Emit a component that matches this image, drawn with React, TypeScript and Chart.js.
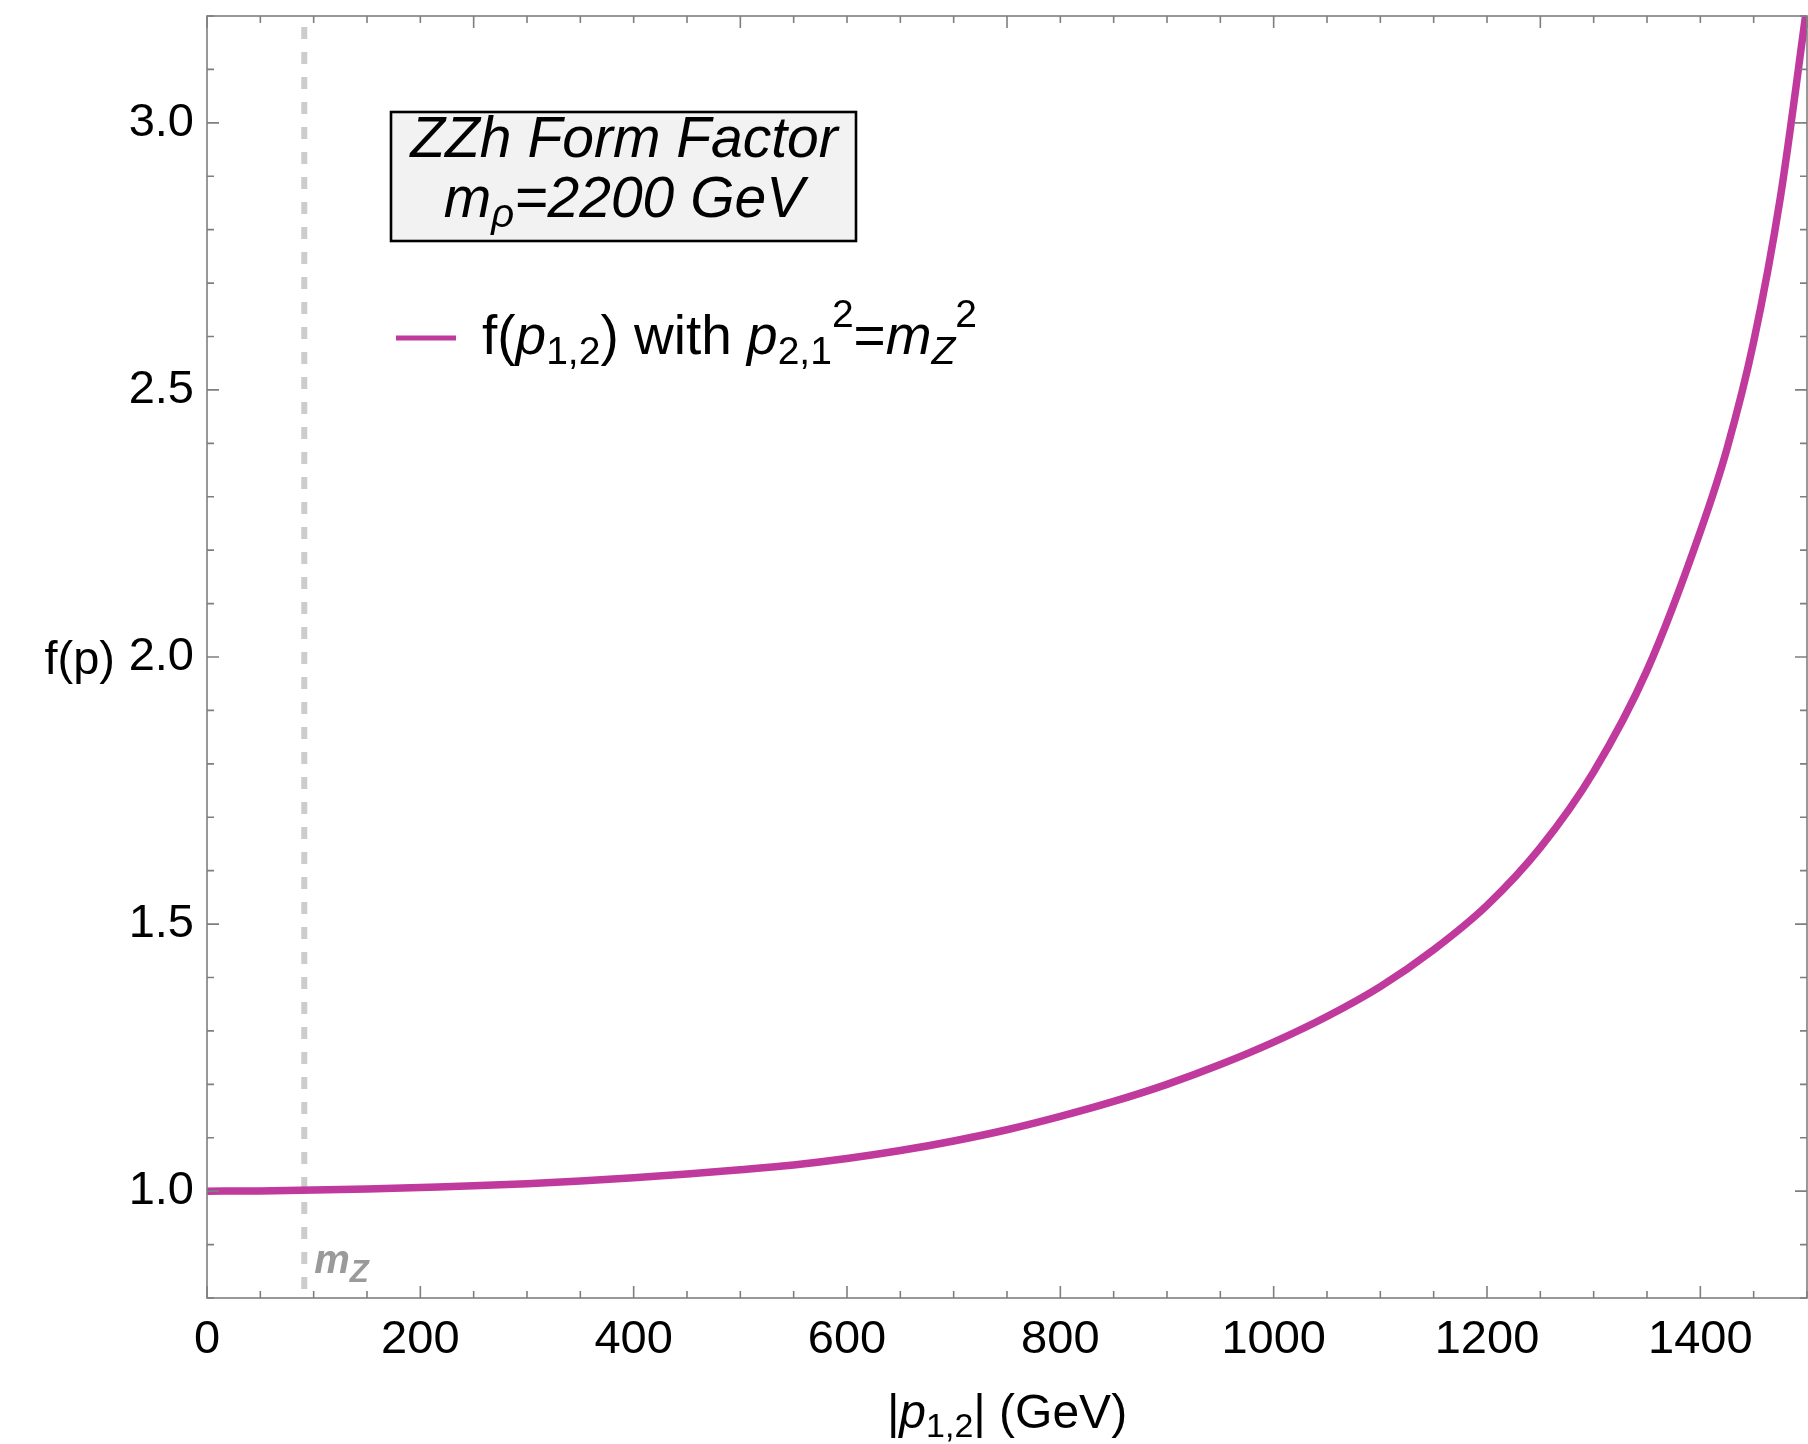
import React, { useEffect, useRef } from "react";
import { Chart, registerables } from "chart.js";

Chart.register(...registerables);

// ---- data ----
const momentum = [0, 50, 100, 150, 200, 250, 300, 350, 400, 450, 500, 550, 600, 650, 700, 750, 800, 850, 900, 950, 1000, 1050, 1100, 1150, 1200, 1250, 1300, 1350, 1400, 1425, 1450, 1475, 1500];
const formFactor = [1.0, 1.0005, 1.002, 1.004, 1.007, 1.01, 1.014, 1.019, 1.025, 1.032, 1.04, 1.049, 1.061, 1.076, 1.094, 1.115, 1.14, 1.168, 1.2, 1.237, 1.279, 1.327, 1.383, 1.452, 1.535, 1.643, 1.785, 1.975, 2.235, 2.39, 2.59, 2.86, 3.22];

const xTickLabels = [0, 200, 400, 600, 800, 1000, 1200, 1400];
const yTickLabels = [1.0, 1.5, 2.0, 2.5, 3.0];

const mZ = 91.19;
const mZLineY = [3.2, 0.8];

const X_MIN = 0;
const X_MAX = 1500;
const Y_MIN = 0.8;
const Y_MAX = 3.2;

const FONT = '"Liberation Sans", Arial, Helvetica, sans-serif';
const CURVE = "#c0399d";

type Seg = { t: string; it?: boolean; bold?: boolean; size: number; dy?: number };

function segFont(s: Seg) {
  return `${s.it ? "italic " : ""}${s.bold ? "bold " : ""}${s.size}px ${FONT}`;
}

function drawRich(ctx: CanvasRenderingContext2D, segs: Seg[], x: number, y: number, align: "left" | "center" | "right", color: string) {
  let w = 0;
  for (const s of segs) {
    ctx.font = segFont(s);
    w += ctx.measureText(s.t).width;
  }
  let cx = align === "left" ? x : align === "center" ? x - w / 2 : x - w;
  ctx.textAlign = "left";
  ctx.textBaseline = "alphabetic";
  ctx.fillStyle = color;
  for (const s of segs) {
    ctx.font = segFont(s);
    ctx.fillText(s.t, cx, y + (s.dy || 0));
    cx += ctx.measureText(s.t).width;
  }
}

function zeroPadding(s: any) {
  s.paddingTop = 0;
  s.paddingBottom = 0;
  s.paddingLeft = 0;
  s.paddingRight = 0;
}

const framePlugin = {
  id: "mmaFrame",
  afterDatasetsDraw(chart: any) {
    const ctx: CanvasRenderingContext2D = chart.ctx;
    const { left, right, top, bottom } = chart.chartArea;
    const xs = chart.scales.x;
    const ys = chart.scales.y;
    ctx.save();
    // frame
    ctx.strokeStyle = "#7f7f7f";
    ctx.lineWidth = 1.6;
    ctx.strokeRect(left, top, right - left, bottom - top);
    // ticks
    const MAJ = 12;
    const MIN = 7;
    ctx.beginPath();
    for (let v = X_MIN; v <= X_MAX; v += 50) {
      const px = xs.getPixelForValue(v);
      const lb = v % 200 === 0 ? MAJ : MIN;
      ctx.moveTo(px, bottom);
      ctx.lineTo(px, bottom - lb);
      const lt = v % 250 === 0 ? MAJ : MIN;
      ctx.moveTo(px, top);
      ctx.lineTo(px, top + lt);
    }
    for (let k = 8; k <= 32; k++) {
      const py = ys.getPixelForValue(k / 10);
      const l = k % 5 === 0 ? MAJ : MIN;
      ctx.moveTo(left, py);
      ctx.lineTo(left + l, py);
      ctx.moveTo(right, py);
      ctx.lineTo(right - l, py);
    }
    ctx.stroke();

    // mZ label
    const mzx = xs.getPixelForValue(mZ);
    drawRich(ctx, [
      { t: "m", it: true, bold: true, size: 40 },
      { t: "Z", it: true, bold: true, size: 31, dy: 9 },
    ], mzx + 10, bottom - 25, "left", "#9a9a9a");

    // title box
    ctx.fillStyle = "#f2f2f2";
    ctx.fillRect(391, 112, 465, 129);
    ctx.strokeStyle = "#000";
    ctx.lineWidth = 2.6;
    ctx.strokeRect(391, 112, 465, 129);
    drawRich(ctx, [{ t: "ZZh Form Factor", it: true, size: 57 }], 624, 157, "center", "#000");
    drawRich(ctx, [
      { t: "m", it: true, size: 57 },
      { t: "ρ", it: true, size: 40, dy: 10 },
      { t: "=2200 GeV", it: true, size: 57 },
    ], 624, 217, "center", "#000");

    // legend
    ctx.strokeStyle = CURVE;
    ctx.lineWidth = 5;
    ctx.beginPath();
    ctx.moveTo(396, 338);
    ctx.lineTo(456, 338);
    ctx.stroke();
    drawRich(ctx, [
      { t: "f(", size: 55 },
      { t: "p", it: true, size: 55 },
      { t: "1,2", size: 39, dy: 10 },
      { t: ") with ", size: 55 },
      { t: "p", it: true, size: 55 },
      { t: "2,1", size: 39, dy: 10 },
      { t: "2", size: 39, dy: -27 },
      { t: "=", size: 55 },
      { t: "m", it: true, size: 55 },
      { t: "Z", it: true, size: 39, dy: 10 },
      { t: "2", size: 39, dy: -27 },
    ], 482, 354, "left", "#000");

    // axis titles
    drawRich(ctx, [
      { t: "|", size: 48 },
      { t: "p", it: true, size: 48 },
      { t: "1,2", size: 34, dy: 9 },
      { t: "| (GeV)", size: 48 },
    ], (left + right) / 2, 1428, "center", "#000");
    drawRich(ctx, [{ t: "f(p)", size: 47 }], 115, ys.getPixelForValue(2.0) + 17, "right", "#000");
    ctx.restore();
  },
};

export default function App() {
  const ref = useRef<HTMLCanvasElement | null>(null);
  useEffect(() => {
    if (!ref.current) return;
    const chart = new Chart(ref.current, {
      type: "line",
      data: {
        datasets: [
          {
            label: "f(p1,2) with p2,1^2=mZ^2",
            data: momentum.map((x, i) => ({ x, y: formFactor[i] })),
            borderColor: CURVE,
            borderWidth: 7.5,
            pointRadius: 0,
            cubicInterpolationMode: "monotone",
            clip: 0,
            fill: false,
          },
          {
            label: "mZ",
            data: mZLineY.map((y) => ({ x: mZ, y })),
            borderColor: "#cccccc",
            borderWidth: 6,
            borderDash: [12, 13],
            borderDashOffset: 14,
            borderCapStyle: "butt",
            pointRadius: 0,
            clip: 0,
            fill: false,
          },
        ],
      },
      options: {
        responsive: false,
        animation: false,
        devicePixelRatio: 1,
        layout: { autoPadding: false, padding: { top: 16, right: 1, left: 0, bottom: 0 } },
        plugins: { legend: { display: false }, tooltip: { enabled: false } },
        scales: {
          x: {
            type: "linear",
            min: X_MIN,
            max: X_MAX,
            grid: { display: false, drawTicks: false },
            border: { display: false },
            ticks: {
              stepSize: 50,
              autoSkip: false,
              maxRotation: 0,
              padding: 14,
              color: "#000",
              font: { family: FONT, size: 47 },
              callback: (v: any) => (xTickLabels.includes(Number(v)) ? String(v) : ""),
            },
            afterFit: (s: any) => {
              s.height = 146;
              zeroPadding(s);
            },
          },
          y: {
            type: "linear",
            min: Y_MIN,
            max: Y_MAX,
            grid: { display: false, drawTicks: false },
            border: { display: false },
            ticks: {
              stepSize: 0.1,
              autoSkip: false,
              padding: 13,
              color: "#000",
              font: { family: FONT, size: 47 },
              callback: (v: any) => {
                const n = Number(v);
                return yTickLabels.some((t) => Math.abs(t - n) < 1e-6) ? n.toFixed(1) : "";
              },
            },
            afterFit: (s: any) => {
              s.width = 207;
              zeroPadding(s);
            },
          },
        },
      } as any,
      plugins: [framePlugin],
    });
    return () => chart.destroy();
  }, []);
  return (
    <div style={{ position: "absolute", left: 0, top: 0, width: 1808, height: 1444, background: "#fff" }}>
      <canvas ref={ref} width={1808} height={1444} style={{ display: "block", width: 1808, height: 1444 }} />
    </div>
  );
}
